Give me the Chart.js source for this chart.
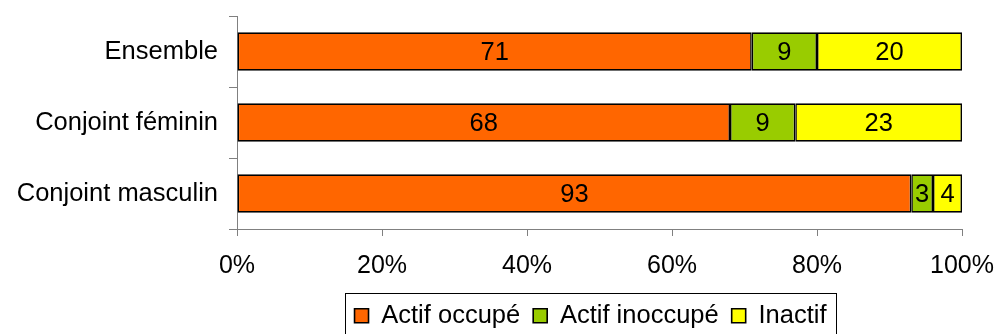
<!DOCTYPE html>
<html>
<head>
<meta charset="utf-8">
<script src="https://cdn.jsdelivr.net/npm/chart.js@4.4.1/dist/chart.umd.min.js"></script>
<style>
  html, body { margin: 0; padding: 0; background: #ffffff; }
  #wrap { width: 996px; height: 334px; }
</style>
</head>
<body>
<div id="wrap"><canvas id="chart" width="996" height="334"></canvas></div>
<script>
// Situation professionnelle selon le conjoint (en %)
const categories = ['Ensemble', 'Conjoint féminin', 'Conjoint masculin'];
const actifOccupe = [71, 68, 93];
const actifInoccupe = [9, 9, 3];
const inactif = [20, 23, 4];
const seriesNames = ['Actif occupé', 'Actif inoccupé', 'Inactif'];
const xTickValues = [0, 20, 40, 60, 80, 100];

const FONT = '"Liberation Sans", Arial, sans-serif';
Chart.defaults.font.family = FONT;
Chart.defaults.color = '#000000';

// Writes each segment's value in the middle of its bar
const barValues = {
  id: 'barValues',
  afterDatasetsDraw(chart) {
    const ctx = chart.ctx;
    ctx.save();
    ctx.font = '25.5px ' + FONT;
    ctx.fillStyle = '#000000';
    ctx.textAlign = 'center';
    ctx.textBaseline = 'middle';
    chart.data.datasets.forEach((ds, di) => {
      chart.getDatasetMeta(di).data.forEach((bar, i) => {
        const p = bar.getCenterPoint();
        ctx.fillText(String(ds.data[i]), p.x, p.y + 1);
      });
    });
    ctx.restore();
  }
};

// Nudges the legend slightly left of the plot centre and frames it
const legendFrame = {
  id: 'legendFrame',
  afterLayout(chart) {
    const lg = chart.legend;
    if (!lg) return;
    lg.left -= 9;
    lg.right -= 9;
  },
  afterDraw(chart) {
    const lg = chart.legend;
    if (!lg || !lg.legendHitBoxes || !lg.legendHitBoxes.length) return;
    let minL = Infinity, maxR = -Infinity;
    lg.legendHitBoxes.forEach(b => {
      minL = Math.min(minL, b.left);
      maxR = Math.max(maxR, b.left + b.width);
    });
    const ctx = chart.ctx;
    ctx.save();
    ctx.strokeStyle = '#000000';
    ctx.lineWidth = 1;
    const x0 = Math.round(minL - 10) + 0.5;
    const x1 = Math.round(maxR + 10) + 0.5;
    const y0 = Math.round(lg.top + 3) + 0.5;
    ctx.strokeRect(x0, y0, x1 - x0, 60);
    ctx.restore();
  }
};

new Chart(document.getElementById('chart'), {
  type: 'bar',
  data: {
    labels: categories,
    datasets: [
      { label: seriesNames[0], data: actifOccupe, backgroundColor: '#FF6600' },
      { label: seriesNames[1], data: actifInoccupe, backgroundColor: '#99CC00' },
      { label: seriesNames[2], data: inactif, backgroundColor: '#FFFF00' }
    ].map(d => Object.assign(d, {
      borderColor: '#000000',
      borderWidth: 1.6,
      borderSkipped: false,
      categoryPercentage: 1,
      barPercentage: 0.54
    }))
  },
  options: {
    indexAxis: 'y',
    responsive: false,
    animation: false,
    devicePixelRatio: 1,
    layout: { padding: { left: 16, right: 34, top: 16, bottom: -4.5 } },
    scales: {
      x: {
        stacked: true,
        min: 0,
        max: 100,
        afterBuildTicks(scale) { scale.ticks = xTickValues.map(v => ({ value: v })); },
        afterFit(scale) { scale.height = 61; scale.paddingLeft = 0; scale.paddingRight = 0; },
        ticks: {
          callback: v => v + '%',
          font: { size: 25 },
          color: '#000000',
          padding: 15,
          maxRotation: 0
        },
        grid: { display: true, drawOnChartArea: false, drawTicks: true, tickLength: 7, color: '#808080' },
        border: { display: true, color: '#808080', width: 1 }
      },
      y: {
        stacked: true,
        afterFit(scale) { scale.width = 221; scale.paddingTop = 0; scale.paddingBottom = 0; },
        ticks: { font: { size: 25.5 }, color: '#000000', padding: 11 },
        grid: { display: true, offset: true, drawOnChartArea: false, drawTicks: true, tickLength: 8, color: '#808080' },
        border: { display: true, color: '#808080', width: 1 }
      }
    },
    plugins: {
      legend: {
        position: 'bottom',
        fullSize: false,
        labels: {
          font: { size: 25.5 },
          color: '#000000',
          boxWidth: 14,
          boxHeight: 14,
          padding: 13
        }
      },
      tooltip: { enabled: false },
      title: { display: false }
    }
  },
  plugins: [barValues, legendFrame]
});
</script>
</body>
</html>
